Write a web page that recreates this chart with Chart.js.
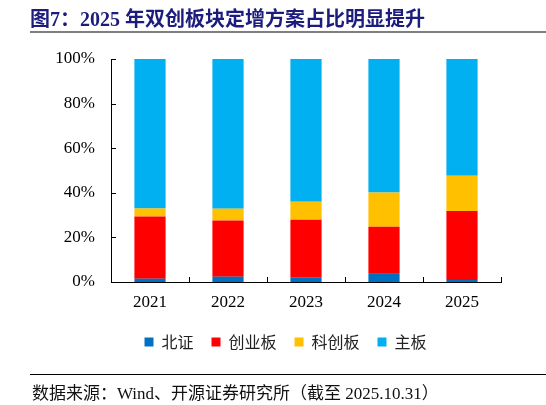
<!DOCTYPE html>
<html>
<head>
<meta charset="utf-8">
<script src="https://cdn.jsdelivr.net/npm/chart.js@4/dist/chart.umd.min.js"></script>
<style>
  body { margin: 0; background: #fff; }
  #wrap { position: relative; width: 546px; height: 405px; overflow: hidden; }
  #titulo { position: absolute; left: 30px; top: 3px; font: bold 20px "Liberation Serif", "Noto Sans CJK SC", serif; color: #1c1c7c; white-space: nowrap; z-index: 2; }
  .linea { position: absolute; left: 30px; width: 516px; z-index: 2; }
  #lineaTitulo { top: 31px; height: 2px; background: #7f7f7f; }
  #lineaFuente { top: 374px; height: 1px; background: #000; }
  #fuente { position: absolute; left: 32px; top: 379px; font: 17px "Liberation Serif", "Noto Sans CJK SC", serif; color: #111; white-space: nowrap; z-index: 2; }
  canvas { position: absolute; left: 0; top: 0; z-index: 1; }
</style>
</head>
<body>
<div id="wrap">
  <canvas id="myChart" width="546" height="405"></canvas>
  <div id="titulo">图7：2025 年双创板块定增方案占比明显提升</div>
  <div id="lineaTitulo" class="linea"></div>
  <div id="lineaFuente" class="linea"></div>
  <div id="fuente">数据来源：Wind、开源证券研究所（截至 2025.10.31）</div>
</div>
<script>
// Datos del gráfico (porcentajes)
const anios = ['2021', '2022', '2023', '2024', '2025'];
const beizheng = [1.5, 2.4, 1.9, 4.0, 0.9];
const chuangye = [27.9, 25.2, 26.0, 20.8, 30.9];
const kechuang = [3.6, 5.3, 8.1, 15.3, 15.9];
const zhuban = [67.0, 67.1, 64.0, 59.9, 52.3];
const ticksY = [0, 20, 40, 60, 80, 100];

// Marcas de los ejes hacia adentro
const marcasInternas = {
    id: 'marcasInternas',
    afterDatasetsDraw(chart) {
        const ctx = chart.ctx;
        const x = chart.scales.x;
        const y = chart.scales.y;
        ctx.save();
        ctx.strokeStyle = '#000';
        ctx.lineWidth = 1;
        ctx.beginPath();
        ticksY.forEach(v => {
            const py = Math.round(y.getPixelForValue(v)) + 0.5;
            ctx.moveTo(x.left, py);
            ctx.lineTo(x.left + 5, py);
        });
        const paso = (x.right - x.left) / anios.length;
        for (let i = 0; i <= anios.length; i++) {
            const px = Math.round(x.left + i * paso) + 0.5;
            ctx.moveTo(px, y.bottom);
            ctx.lineTo(px, y.bottom - 5);
        }
        ctx.stroke();
        ctx.restore();
    }
};

const ctx = document.getElementById('myChart').getContext('2d');
new Chart(ctx, {
    type: 'bar',
    data: {
        labels: anios,
        datasets: [
            { label: '北证', data: beizheng, backgroundColor: '#0070c0' },
            { label: '创业板', data: chuangye, backgroundColor: '#ff0000' },
            { label: '科创板', data: kechuang, backgroundColor: '#ffc000' },
            { label: '主板', data: zhuban, backgroundColor: '#00b0f0' }
        ]
    },
    options: {
        responsive: false,
        animation: false,
        layout: { padding: { top: 59, left: 45, right: 20, bottom: 45 } },
        datasets: { bar: { barPercentage: 0.4, categoryPercentage: 1 } },
        plugins: {
            tooltip: { enabled: false },
            legend: {
                position: 'bottom',
                labels: {
                    boxWidth: 9,
                    boxHeight: 9,
                    padding: 18,
                    color: '#222',
                    font: { family: '"Noto Sans CJK SC"', size: 16 }
                }
            }
        },
        scales: {
            x: {
                stacked: true,
                grid: { display: false, drawTicks: false },
                border: { display: true, color: '#000', width: 1 },
                ticks: { color: '#000', padding: 10, font: { family: '"Liberation Serif"', size: 17 } },
                afterFit(scale) { scale.width = scale.width; scale.height = 34; }
            },
            y: {
                stacked: true,
                min: 0,
                max: 100,
                grid: { display: false, drawTicks: false },
                border: { display: true, color: '#000', width: 1 },
                ticks: {
                    stepSize: 20,
                    color: '#000',
                    padding: 16,
                    font: { family: '"Liberation Serif"', size: 17 },
                    callback: v => v + '%'
                },
                afterFit(scale) { scale.width = 66; }
            },
            // eje vacío a la derecha para dejar el mismo margen que el original
            yDer: {
                type: 'linear',
                position: 'right',
                min: 0,
                max: 100,
                grid: { display: false, drawTicks: false },
                border: { display: false },
                ticks: { display: false },
                afterFit(scale) { scale.width = 25; }
            }
        }
    },
    plugins: [marcasInternas]
});
</script>
</body>
</html>
